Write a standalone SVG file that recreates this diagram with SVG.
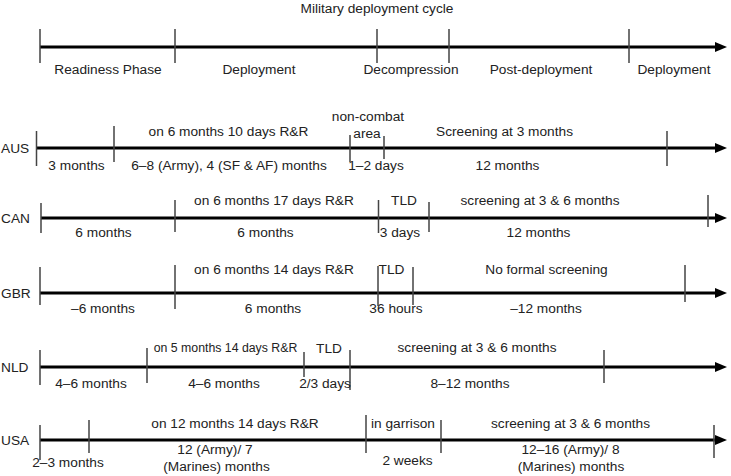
<svg xmlns="http://www.w3.org/2000/svg" width="731" height="476" viewBox="0 0 731 476">
<defs>
<marker id="ah" markerUnits="userSpaceOnUse" markerWidth="12" markerHeight="10" refX="3" refY="5" orient="auto">
<path d="M0,0 L12,5 L0,10 z" fill="#000"/>
</marker>
<style>
text{font-family:"Liberation Sans",Arial,Helvetica,sans-serif;font-size:13.7px;fill:#222}
.m{text-anchor:middle}
.s{font-size:12.3px}
.axis{stroke:#000;stroke-width:3;fill:none}
.tick{stroke:#444;stroke-width:1.5}
</style>
</defs>
<rect width="731" height="476" fill="#fff"/>

<g id="cycle">
<text class="m" x="377" y="13">Military deployment cycle</text>
<line class="axis" x1="40" y1="47" x2="718" y2="47" marker-end="url(#ah)"/>
<path class="tick" d="M40,29V63M175,29V63M377,29V63M449,29V63M629,29V63"/>
<text class="m" x="108" y="74">Readiness Phase</text>
<text class="m" x="259" y="74">Deployment</text>
<text class="m" x="411" y="74">Decompression</text>
<text class="m" x="541" y="74">Post-deployment</text>
<text class="m" x="674" y="74">Deployment</text>
</g>

<g id="AUS">
<text x="1" y="153">AUS</text>
<line class="axis" x1="36" y1="148" x2="718" y2="148" marker-end="url(#ah)"/>
<path class="tick" d="M36.5,131V166M114,126V162M350,135V162M384,136V159M667,131V166"/>
<text class="m" x="228.5" y="136">on 6 months 10 days R&amp;R</text>
<text class="m" x="368" y="121">non-combat</text>
<text class="m" x="367" y="138">area</text>
<text class="m" x="504.5" y="136">Screening at 3 months</text>
<text class="m" x="76.5" y="170">3 months</text>
<text class="m" x="229" y="170">6–8 (Army), 4 (SF &amp; AF) months</text>
<text class="m" x="376" y="170">1–2 days</text>
<text class="m" x="507.5" y="170">12 months</text>
</g>

<g id="CAN">
<text x="1" y="223">CAN</text>
<line class="axis" x1="41" y1="218" x2="718" y2="218" marker-end="url(#ah)"/>
<path class="tick" d="M41,203V233M175,200V232M378.5,200V233M429,202V232M708,195V227"/>
<text class="m" x="274" y="205">on 6 months 17 days R&amp;R</text>
<text class="m" x="404" y="205">TLD</text>
<text class="m" x="540" y="205">screening at 3 &amp; 6 months</text>
<text class="m" x="103.5" y="237">6 months</text>
<text class="m" x="265.5" y="237">6 months</text>
<text class="m" x="400" y="237">3 days</text>
<text class="m" x="538.5" y="237">12 months</text>
</g>

<g id="GBR">
<text x="1" y="298">GBR</text>
<line class="axis" x1="40" y1="293" x2="718" y2="293" marker-end="url(#ah)"/>
<path class="tick" d="M40,267V305M175,265V309M378,266V306M413,267V305M685,265V302"/>
<text class="m" x="274" y="274">on 6 months 14 days R&amp;R</text>
<text class="m" x="391.5" y="274">TLD</text>
<text class="m" x="546.5" y="274">No formal screening</text>
<text class="m" x="103" y="313">–6 months</text>
<text class="m" x="273" y="313">6 months</text>
<text class="m" x="396" y="313">36 hours</text>
<text class="m" x="546" y="313">–12 months</text>
</g>

<g id="NLD">
<text x="1" y="372">NLD</text>
<line class="axis" x1="40" y1="367" x2="718" y2="367" marker-end="url(#ah)"/>
<path class="tick" d="M40,350V385M147,348V383M304,352V377M350,350V390M604,350V383"/>
<text class="m s" x="225.5" y="352">on 5 months 14 days R&amp;R</text>
<text class="m" x="329" y="353">TLD</text>
<text class="m" x="477" y="352">screening at 3 &amp; 6 months</text>
<text class="m" x="91" y="388">4–6 months</text>
<text class="m" x="224" y="388">4–6 months</text>
<text class="m" x="325" y="388">2/3 days</text>
<text class="m" x="470" y="388">8–12 months</text>
</g>

<g id="USA">
<text x="1" y="445">USA</text>
<line class="axis" x1="40" y1="440" x2="718" y2="440" marker-end="url(#ah)"/>
<path class="tick" d="M40,425V460M89,420V453M366,415V453M441,420V453M714,425V458"/>
<text class="m" x="235" y="428">on 12 months 14 days R&amp;R</text>
<text class="m" x="403" y="428">in garrison</text>
<text class="m" x="570.5" y="428">screening at 3 &amp; 6 months</text>
<text class="m" x="68" y="467">2–3 months</text>
<text class="m" x="215" y="454">12 (Army)/ 7</text>
<text class="m" x="216.5" y="471">(Marines) months</text>
<text class="m" x="407.5" y="465">2 weeks</text>
<text class="m" x="570.5" y="454">12–16 (Army)/ 8</text>
<text class="m" x="571" y="471">(Marines) months</text>
</g>
</svg>
